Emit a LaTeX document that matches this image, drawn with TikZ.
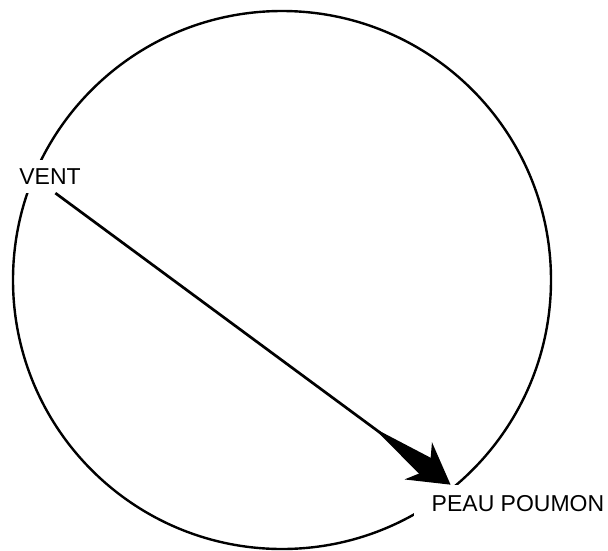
\documentclass[tikz,border=0pt]{standalone}
\usepackage{fontspec}
\newfontfamily\lblfont{Liberation Sans}
\usetikzlibrary{arrows.meta,positioning}

\begin{document}
\begin{tikzpicture}[x=1pt, y=-1pt,
  ringline/.style={circle, draw=black, line width=2.4pt, minimum size=538pt, inner sep=0pt},
  lbl/.style={fill=white, font=\lblfont\fontsize{23}{27}\selectfont, text=black},
  arr/.style={-{Triangle[reversed, length=74pt, width=22pt, sep=-18pt]Stealth[length=40pt, width=46pt, inset=14pt]}, line width=2.7pt, color=black}
]
\useasboundingbox (0,0) rectangle (608,550);
\node[ringline] (ring) at (282,280) {};
\node[lbl, inner xsep=5pt, inner ysep=8.5pt] (vent) at (50,176.5) {VENT};
\node[lbl, inner xsep=18pt, inner ysep=11pt] (peau) at (518,504) {PEAU POUMON};
\draw[arr] (vent.-72) -- (peau.164);
\end{tikzpicture}
\end{document}
